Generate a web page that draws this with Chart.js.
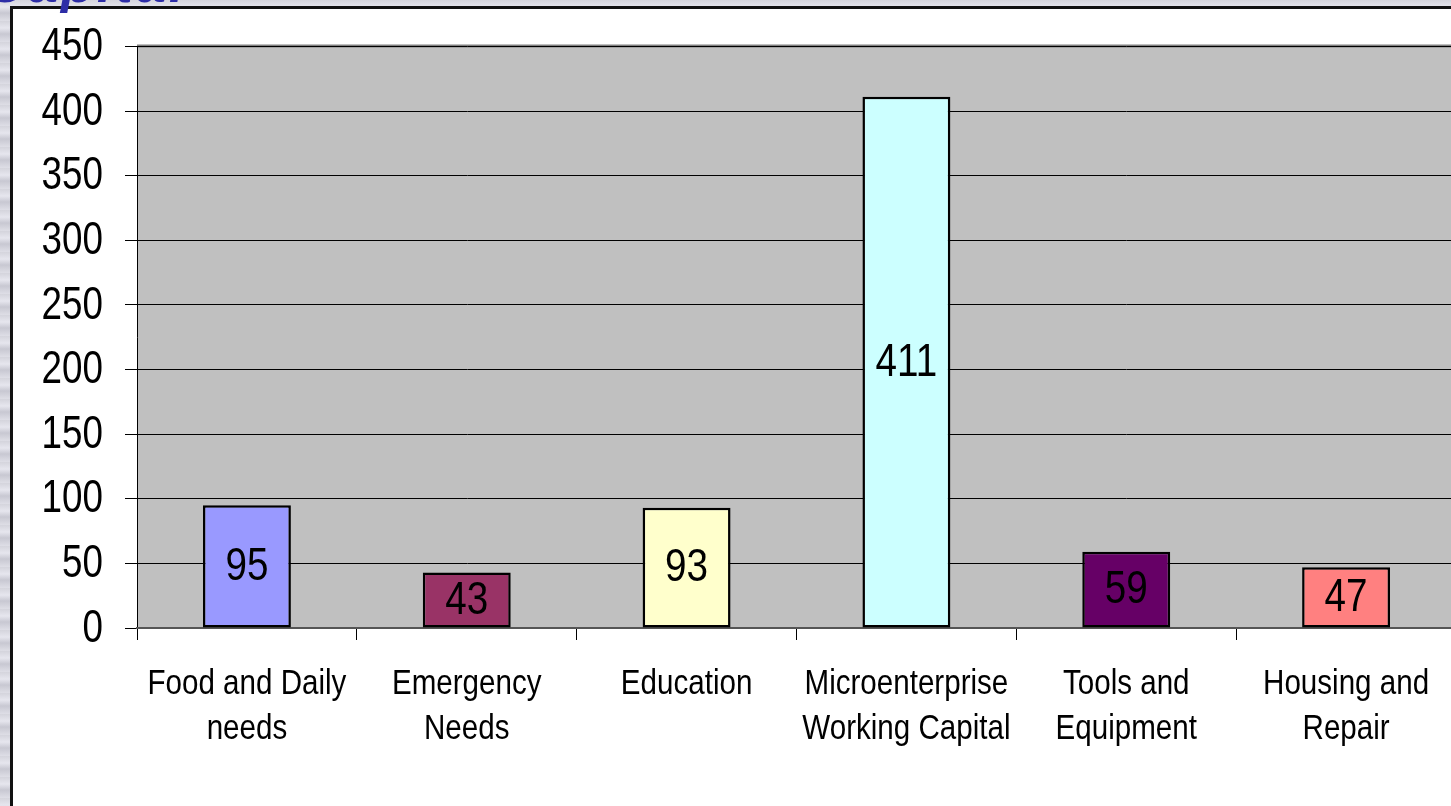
<!DOCTYPE html>
<html>
<head>
<meta charset="utf-8">
<script src="https://cdn.jsdelivr.net/npm/chart.js@4/dist/chart.umd.min.js"></script>
<style>
  html, body { margin: 0; padding: 0; width: 1451px; height: 806px; overflow: hidden; }
  body {
    background: repeating-linear-gradient(180deg, #d4d4dc 0px, #e6e6ee 7px, #c8c8d2 13px, #dedee6 21px);
    position: relative;
  }
  #heading {
    position: absolute; left: -14px; top: -44px; z-index: 3;
    font: italic bold 54px "Liberation Sans", Arial, sans-serif; line-height: 54px;
    letter-spacing: 3px; color: #2c2ca6; white-space: nowrap;
  }
  #panel {
    position: absolute; left: 10px; top: 6px; width: 1460px; height: 820px;
    background: #ffffff; border-left: 3px solid #111; border-top: 3px solid #111;
  }
  #wrap { position: absolute; left: 0; top: 0; width: 1460px; height: 806px; z-index: 2; }
</style>
</head>
<body>
<div id="heading">Capital</div>
<div id="panel"></div>
<div id="wrap"><canvas id="c" width="1460" height="806"></canvas></div>
<script>
const categories = [
  ["Food and Daily", "needs"],
  ["Emergency", "Needs"],
  ["Education"],
  ["Microenterprise", "Working Capital"],
  ["Tools and", "Equipment"],
  ["Housing and", "Repair"]
];
const loanCounts = [95, 43, 93, 411, 59, 47];
const barColors = ["#9999ff", "#993366", "#ffffcc", "#ccffff", "#660066", "#ff8080"];
const yTicks = [0, 50, 100, 150, 200, 250, 300, 350, 400, 450];

const FONT = "'Liberation Sans', Arial, sans-serif";

// text drawn horizontally condensed, like a narrow sans face
function narrowText(ctx, text, x, y, size, squeeze, align) {
  ctx.save();
  ctx.translate(x, y);
  ctx.scale(squeeze, 1);
  ctx.font = size + 'px ' + FONT;
  ctx.fillStyle = '#000';
  ctx.textAlign = align;
  ctx.textBaseline = 'middle';
  ctx.fillText(text, 0, 0);
  ctx.restore();
}

// grey plot area with a darker top edge
const plotBackground = {
  id: 'plotBackground',
  beforeDraw(chart) {
    const { ctx, chartArea: a } = chart;
    ctx.save();
    ctx.fillStyle = '#c0c0c0';
    ctx.fillRect(a.left, a.top, a.right - a.left, a.bottom - a.top);
    ctx.strokeStyle = '#808080';
    ctx.lineWidth = 3;
    ctx.beginPath();
    ctx.moveTo(a.left, a.top - 0.5);
    ctx.lineTo(a.right, a.top - 0.5);
    ctx.stroke();
    ctx.restore();
  }
};

// axis labels and bar values in a condensed face
const narrowLabels = {
  id: 'narrowLabels',
  afterDraw(chart) {
    const { ctx } = chart;
    const ys = chart.scales.y, xs = chart.scales.x;
    yTicks.forEach(v => {
      narrowText(ctx, String(v), ys.right - 34, ys.getPixelForValue(v) + 1, 46, 0.8, 'right');
    });
    categories.forEach((lines, i) => {
      const cx = xs.getPixelForTick(i);
      lines.forEach((line, k) => {
        narrowText(ctx, line, cx, xs.top + 56 + k * 45, 35, 0.845, 'center');
      });
    });
    const meta = chart.getDatasetMeta(0);
    meta.data.forEach((bar, i) => {
      narrowText(ctx, String(loanCounts[i]), bar.x, (bar.y + bar.base) / 2 + 1, 46, 0.84, 'center');
    });
  }
};

new Chart(document.getElementById('c'), {
  type: 'bar',
  data: {
    labels: categories,
    datasets: [{
      data: loanCounts,
      backgroundColor: barColors,
      borderColor: '#000',
      borderWidth: 2.5,
      borderSkipped: false,
      categoryPercentage: 1,
      barPercentage: 0.4
    }]
  },
  options: {
    responsive: false,
    animation: false,
    layout: { padding: { top: 46, right: 4, left: 0, bottom: 0 } },
    plugins: { legend: { display: false }, tooltip: { enabled: false } },
    scales: {
      y: {
        min: 0, max: 450,
        afterBuildTicks(scale) { scale.ticks = yTicks.map(v => ({ value: v })); },
        afterFit(scale) { scale.width = 137; },
        ticks: { color: 'rgba(0,0,0,0)', font: { family: FONT, size: 44 }, padding: 20 },
        grid: { color: '#000', lineWidth: 1, tickLength: 12, tickColor: '#000' },
        border: { color: '#000', width: 1 }
      },
      x: {
        offset: true,
        afterFit(scale) { scale.height = 806 - 46 - 582; },
        ticks: { color: 'rgba(0,0,0,0)', font: { family: FONT, size: 35, lineHeight: 1.29 }, padding: 14, maxRotation: 0, autoSkip: false },
        grid: { offset: true, drawOnChartArea: false, tickLength: 12, tickColor: '#000', lineWidth: 1 },
        border: { color: '#555', width: 2 }
      }
    }
  },
  plugins: [plotBackground, narrowLabels]
});
</script>
</body>
</html>
